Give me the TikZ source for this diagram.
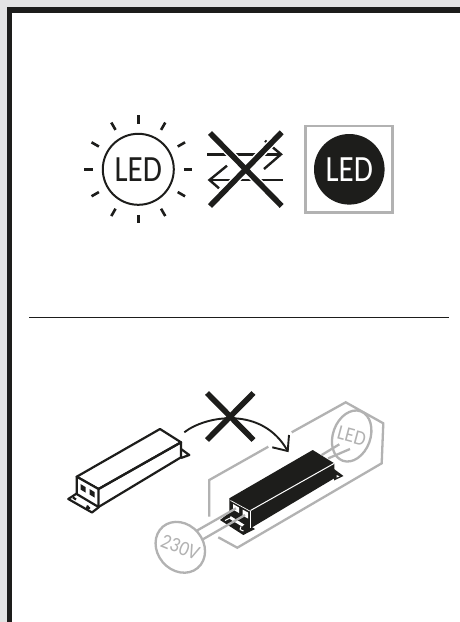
\documentclass[tikz,border=0pt]{standalone}
\usepackage{fontspec}
\setmainfont{Carlito}
\usepackage{graphicx}
\usepackage{tikz}
\usetikzlibrary{arrows.meta, positioning, calc}
\definecolor{inkblack}{HTML}{1D1D1B}
\definecolor{edgegray}{HTML}{B2B2B2}
\definecolor{pagegray}{HTML}{E4E4E4}

\begin{document}
\begin{tikzpicture}[
  x=1pt, y=-1pt,
  ray/.style={inkblack, line width=2.6pt},
  wireline/.style={inkblack, line width=2.4pt},
  crossbar/.style={inkblack, line width=5.6pt},
  halo/.style={white, line width=8.5pt},
  boxline/.style={inkblack, line width=2.2pt, line join=round},
  grayline/.style={edgegray, line width=2.3pt, line join=miter},
  bigled/.style={font=\fontsize{37}{37}\selectfont},
  graytext/.style={text=edgegray, font=\fontsize{21}{21}\selectfont},
]
\useasboundingbox (0,0) rectangle (460,622);
\fill[pagegray] (0,0) rectangle (460,622);
\fill[white] (7,7) rectangle (460,622);
\fill[inkblack] (7,7) rectangle (460,13);
\fill[inkblack] (7,7) rectangle (12,622);

\draw[inkblack, line width=2pt] (138.3,169.3) circle (35.5);
\node[bigled, text=inkblack] (ledsun) at (138.3,169.3) {\scalebox{.84}[1]{LED}};
\foreach \a in {0,30,...,330}
  \draw[ray] ($(138.3,169.3)+(\a:45.5)$) -- ($(138.3,169.3)+(\a:54)$);

\draw[wireline] (207.3,154.3) -- (280,154.3);
\draw[wireline] (265,140.7) -- (281,154.3) -- (264,169);
\draw[wireline] (210,180) -- (283,180);
\draw[wireline] (227,165.7) -- (209.5,180) -- (219,188.3);
\draw[halo] (210,133) -- (281.7,206);
\draw[halo] (281.7,132.3) -- (210,206);
\draw[crossbar] (210,133) -- (281.7,206);
\draw[crossbar] (281.7,132.3) -- (210,206);

\draw[edgegray, line width=2.6pt] (305.7,126) rectangle (392.7,212.7);
\fill[inkblack] (349.3,169.3) circle (35.3);
\node[bigled, text=white] (ledoff) at (349.3,169.3) {\scalebox{.84}[1]{LED}};

\draw[inkblack, line width=1pt] (29,317) -- (449,317);

\draw[boxline] (76.7,493.5) -- (68.3,499) -- (92,512.5) -- (99,507);
\draw[boxline] (181,449) -- (189.3,455) -- (181,458);
\draw[boxline, fill=white] (76.7,476.7) -- (160,429) -- (181,442.3) -- (98.5,489) -- cycle;
\draw[boxline, fill=white] (76.7,476.7) -- (98.5,489) -- (98.5,507) -- (76.7,494) -- cycle;
\draw[boxline] (98.5,489) -- (181,442.3) -- (181,457.3) -- (98.5,507);
\draw[boxline] (73,497.5) -- (76,499.5) (88,505.5) -- (87,508) -- (90,508);
\fill[inkblack] (80.5,484) -- (85.5,487) -- (85.5,492.5) -- (80.5,489.5) -- cycle;
\fill[inkblack] (89.5,489) -- (94.5,492) -- (94.5,497.5) -- (89.5,494.5) -- cycle;

\draw[grayline] (291.7,432.3) -- (345.7,402.3) -- (383.3,423.3) -- (381.7,463.3) -- (237.3,547.7) -- (218.3,537.3);
\draw[grayline] (268.3,446.7) -- (209.3,480) -- (209.3,516.7);

\fill[inkblack] (229,513) -- (220,520) -- (243.3,535) -- (255,529) -- cycle;
\fill[inkblack] (334,469) -- (343.5,476) -- (334,480.5) -- cycle;
\fill[white] (336.5,475) -- (339.5,476.3) -- (336.5,477.7) -- cycle;
\fill[white] (229,518.5) -- (231,516) -- (245,524) -- (242,526.5) -- cycle;
\draw[white, line width=1pt] (225,520.5) -- (229,518.5) (240,529.5) -- (243.5,531) (240,529.5) -- (241,526.5);
\fill[inkblack] (229.3,498.3) -- (312.7,450) -- (334.3,463.3) -- (334.3,478.3) -- (250.5,528.3) -- (229.3,515) -- cycle;
\draw[white, line width=1pt] (250.5,510.5) -- (334.3,463.3);
\draw[white, line width=1pt] (250.5,510.5) -- (250.5,528);
\draw[white, line width=.7pt] (230.5,500.5) -- (249.8,511);
\fill[white] (233,504) -- (239,507.5) -- (239,513) -- (233,509.5) -- cycle;
\fill[white] (242.5,509.5) -- (248,512.5) -- (248,518.5) -- (242.5,515.5) -- cycle;

\draw[grayline] (195,531.7) -- (236,508.3);
\draw[grayline] (201.7,540) -- (245,515);
\draw[grayline] (321.7,455) -- (339.3,444.3);
\draw[grayline] (328,458.5) -- (350,449);
\draw[grayline, fill=white] (180.3,547.3) ellipse[x radius=27, y radius=23, rotate=-50];
\node[graytext, rotate=-22] (volt) at (180.3,547.3) {\scalebox{.9}[1]{230V}};
\draw[grayline] (351.7,436) ellipse[x radius=18.7, y radius=26.3, rotate=-20];
\node[graytext, rotate=-15] (ledtag) at (351.7,436) {\scalebox{.9}[1]{LED}};

\coordinate (bendstart) at (184.3,432.3);
\coordinate (bendend) at (287.7,451);
\draw[inkblack, line width=1.9pt] (bendstart) .. controls (205,416) and (262,405) .. (bendend);
\draw[inkblack, line width=1.9pt] (272.3,447.3) -- (bendend) -- (289,435);
\draw[crossbar] (207,393) -- (253.5,440);
\draw[crossbar] (253.5,393) -- (207,440);
\end{tikzpicture}
\end{document}
